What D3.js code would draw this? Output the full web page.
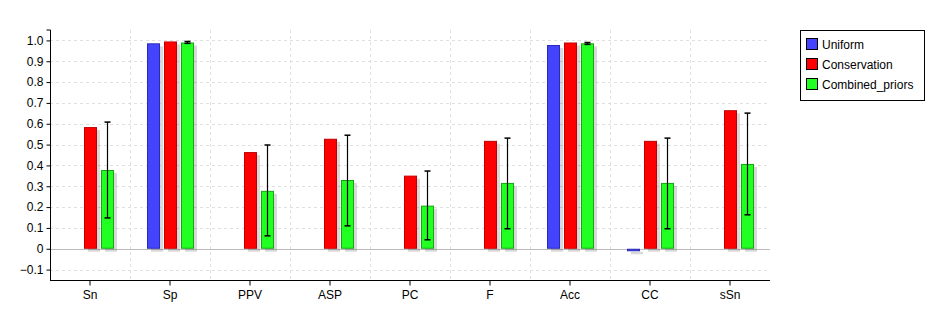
<!DOCTYPE html>
<html><head><meta charset="utf-8">
<script src="https://cdn.jsdelivr.net/npm/d3@7"></script>
<style>body{margin:0;background:#fff;}svg{display:block;font-family:"Liberation Sans",Arial,sans-serif;}</style>
</head><body>
<svg id="c" width="944" height="333"></svg>
<script>
const categories = ["Sn","Sp","PPV","ASP","PC","F","Acc","CC","sSn"];
const seriesNames = ["Uniform","Conservation","Combined_priors"];
const uniform = [null, 0.986, null, null, null, null, 0.978, -0.012, null];
const conservation = [0.584, 0.995, 0.464, 0.528, 0.351, 0.518, 0.990, 0.518, 0.665];
const combined = [0.378, 0.990, 0.278, 0.330, 0.207, 0.316, 0.986, 0.316, 0.407];
const combinedErrLow = [0.148, 0.986, 0.062, 0.110, 0.043, 0.096, 0.981, 0.096, 0.163];
const combinedErrHigh = [0.608, 0.995, 0.498, 0.545, 0.373, 0.531, 0.990, 0.531, 0.651];
const yTicks = [-0.1,0,0.1,0.2,0.3,0.4,0.5,0.6,0.7,0.8,0.9,1.0];
const fills = ["#4444ff","#ff0000","#22ff22"];
const strokes = ["#2a2ab8","#c00000","#12a812"];

(function(){
const svg = d3.select("#c");
const pL = 50, pR = 770, pT = 30, pB = 280;
const x = d3.scaleBand().domain(categories).range([pL, pR]);
const sub = d3.scalePoint().domain(seriesNames).range([-17, 17]);
const y = d3.scaleLinear().domain([-0.15, 1.05]).range([pB, pT]);
const bw = 12;

// grid
const g = svg.append("g");
g.selectAll("line.h").data(yTicks.filter(d => d !== 0)).enter().append("line")
  .attr("x1", pL).attr("x2", pR)
  .attr("y1", d => Math.round(y(d)) + 0.5).attr("y2", d => Math.round(y(d)) + 0.5)
  .attr("stroke", "#e0e0e0").attr("stroke-dasharray", "3,3");
g.selectAll("line.v").data(categories.slice(1)).enter().append("line")
  .attr("x1", d => Math.round(x(d)) + 0.5).attr("x2", d => Math.round(x(d)) + 0.5)
  .attr("y1", pT).attr("y2", pB)
  .attr("stroke", "#e0e0e0").attr("stroke-dasharray", "3,3");
g.append("line").attr("x1", pL).attr("x2", pR)
  .attr("y1", Math.round(y(0)) + 0.5).attr("y2", Math.round(y(0)) + 0.5)
  .attr("stroke", "#bbbbbb");

const data = [];
const arrs = [uniform, conservation, combined];
categories.forEach((c, i) => {
  seriesNames.forEach((s, j) => {
    const v = arrs[j][i];
    if (v !== null) data.push({c, s, j, v, i});
  });
});

const bx = d => x(d.c) + x.bandwidth() / 2 + sub(d.s) - bw / 2;
// shadows
svg.append("g").selectAll("rect").data(data).enter().append("rect")
  .attr("x", d => bx(d) + 4)
  .attr("y", d => Math.min(y(d.v), y(0)) + 3)
  .attr("width", bw)
  .attr("height", d => Math.abs(y(d.v) - y(0)))
  .attr("fill", "#000").attr("opacity", 0.15);
// bars
svg.append("g").selectAll("rect").data(data).enter().append("rect")
  .attr("x", d => Math.round(bx(d)) + 0.5)
  .attr("y", d => Math.min(y(d.v), y(0)) + 0.5)
  .attr("width", bw)
  .attr("height", d => Math.max(1, Math.abs(y(d.v) - y(0)) - 1))
  .attr("fill", d => fills[d.j]).attr("stroke", d => strokes[d.j]).attr("stroke-width", 1);

// error bars on combined
const eg = svg.append("g");
categories.forEach((c, i) => {
  const cx = Math.round(x(c) + x.bandwidth() / 2 + sub("Combined_priors")) + 0.5;
  const y1 = y(combinedErrHigh[i]), y2 = y(combinedErrLow[i]);
  eg.append("line").attr("x1", cx).attr("x2", cx).attr("y1", y1).attr("y2", y2).attr("stroke", "#000").attr("stroke-width", 1.2);
  [y1, y2].forEach(yy => eg.append("line").attr("x1", cx - 3).attr("x2", cx + 3).attr("y1", yy).attr("y2", yy).attr("stroke", "#000").attr("stroke-width", 1.5));
});

// axes
const yAxis = d3.axisLeft(y).tickValues(yTicks).tickSize(4).tickPadding(3)
  .tickFormat(d => d === 0 ? "0" : d3.format(".1f")(d));
const ya = svg.append("g").attr("transform", `translate(${pL + 0.5},0)`).call(yAxis);
ya.select(".domain").attr("d", `M-4,${pT}H0V${pB}`).attr("stroke", "#000");
ya.selectAll("text").attr("font-size", 12).attr("fill", "#000").style("font-family", "inherit");
ya.selectAll(".tick line").attr("stroke", "#000");

const xAxis = d3.axisBottom(x).tickSize(5).tickPadding(5);
const xa = svg.append("g").attr("transform", `translate(0,${pB + 0.5})`).call(xAxis);
xa.select(".domain").attr("d", `M${pL},0H${pR}`).attr("stroke", "#000");
xa.selectAll("text").attr("font-size", 12).attr("fill", "#000").style("font-family", "inherit");
xa.selectAll(".tick line").attr("stroke", "#000");

// legend
const lg = svg.append("g");
lg.append("rect").attr("x", 800.5).attr("y", 30.5).attr("width", 124).attr("height", 70)
  .attr("fill", "#fff").attr("stroke", "#000");
seriesNames.forEach((s, j) => {
  const yy = 44 + j * 20;
  lg.append("rect").attr("x", 806.5).attr("y", yy - 5.5).attr("width", 11).attr("height", 11)
    .attr("fill", fills[j]).attr("stroke", "#000");
  lg.append("text").attr("x", 822).attr("y", yy + 4.5).attr("font-size", 12).text(s);
});
})();
</script>
</body></html>
